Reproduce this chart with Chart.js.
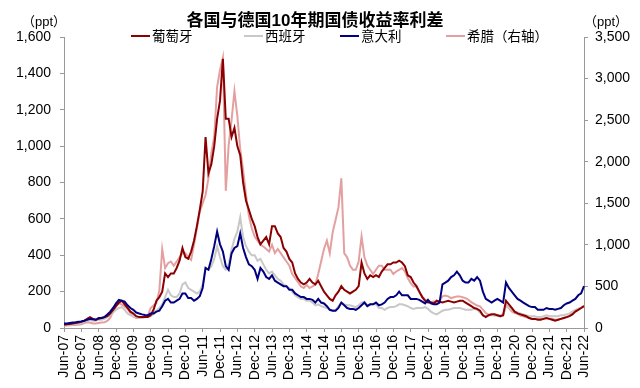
<!DOCTYPE html>
<html>
<head>
<meta charset="utf-8">
<script src="https://cdn.jsdelivr.net/npm/chart.js@4.4.0/dist/chart.umd.min.js"></script>
<style>
    body { margin: 0; background: #fff; }
    #wrap { position: relative; width: 640px; height: 388px; font-family: "Liberation Sans", "Noto Sans CJK SC", sans-serif; color: #000; }
    #title { position: absolute; top: 6px; left: 0; width: 630px; text-align: center; font-size: 17px; font-weight: bold; }
    .unit { position: absolute; top: 11px; font-size: 13px; }
    .leg { position: absolute; top: 29px; font-size: 13.5px; line-height: 16px; white-space: nowrap; }
    .leg i { display: inline-block; width: 19px; height: 2px; vertical-align: middle; margin-right: 2px; margin-top: -2px; }
</style>
</head>
<body>
<div id="wrap">
    <canvas id="chart" width="640" height="388"></canvas>
    <div id="title">各国与德国10年期国债收益率利差</div>
    <div class="unit" style="left:22px">（ppt）</div>
    <div class="unit" style="left:584px">（ppt）</div>
    <div class="leg" style="left:131px"><i style="background:#8b0000"></i>葡萄牙</div>
    <div class="leg" style="left:244px"><i style="background:#c8c8c8"></i>西班牙</div>
    <div class="leg" style="left:340px"><i style="background:#000080"></i>意大利</div>
    <div class="leg" style="left:446px"><i style="background:#e4a0a0"></i>希腊（右轴）</div>
</div>
<script>
// monthly points, Jun-07 .. Jun-22
const monthNames = ['Jun', 'Jul', 'Aug', 'Sep', 'Oct', 'Nov', 'Dec', 'Jan', 'Feb', 'Mar', 'Apr', 'May'];
const months = [];
for (let i = 0; i <= 180; i++) {
    const yr = 7 + Math.floor((i + 5) / 12);
    months.push(monthNames[i % 12] + '-' + String(yr).padStart(2, '0'));
}

const portugal = [
    18, 20, 22, 25, 28, 30, 35, 40, 50, 60, 50, 45,
    50, 55, 60, 65, 80, 100, 120, 140, 150, 130, 110, 90,
    80, 65, 60, 60, 60, 60, 70, 100, 150, 170, 200, 300,
    280, 300, 300, 330, 370, 440, 390, 380, 420, 480, 560, 650,
    750, 1050, 850, 900, 1000, 1150, 1250, 1480, 1150, 1150, 1050, 1100,
    1000, 950, 800, 700, 650, 600, 560, 500, 460, 480, 500, 460,
    560, 560, 520, 500, 440, 420, 380, 360, 300, 270, 250, 240,
    250, 270, 250, 240, 260, 230, 200, 180, 160, 150, 180, 200,
    230, 210, 200, 190, 200, 210, 230, 360, 300, 270, 290, 280,
    290, 280, 310, 330, 350, 350, 360, 360, 370, 360, 340, 290,
    280, 250, 230, 200, 170, 150, 140, 140, 135, 150, 145, 140,
    145, 150, 145, 140, 145, 150, 150, 140, 130, 120, 110, 105,
    95, 70, 60, 70, 75, 75, 70, 65, 70, 150, 130, 110,
    90, 80, 75, 70, 65, 55, 50, 50, 45, 45, 50, 55,
    50, 45, 40, 45, 50, 55, 60, 65, 75, 90, 100, 110,
    120
];
const spain = [
    15, 15, 18, 20, 22, 25, 30, 35, 40, 45, 40, 40,
    45, 45, 50, 60, 70, 85, 100, 110, 115, 100, 80, 70,
    65, 60, 55, 55, 60, 60, 65, 75, 95, 110, 130, 170,
    210, 180, 170, 170, 190, 240, 250, 220, 210, 200, 190, 200,
    240, 330, 320, 340, 380, 450, 390, 340, 320, 350, 430, 490,
    530, 610, 500, 450, 420, 400, 400, 370, 380, 350, 320, 300,
    310, 290, 270, 260, 240, 230, 220, 200, 180, 170, 160, 160,
    150, 150, 140, 125, 130, 120, 115, 110, 100, 95, 100, 120,
    140, 130, 125, 125, 120, 115, 125, 140, 145, 125, 130, 130,
    130, 110, 110, 100, 110, 115, 115, 120, 130, 130, 125, 120,
    110, 105, 110, 110, 110, 115, 105, 90, 80, 75, 85, 95,
    100, 100, 105, 110, 110, 110, 105, 100, 100, 100, 105, 100,
    85, 70, 65, 70, 70, 70, 70, 70, 70, 120, 115, 100,
    90, 85, 80, 75, 70, 65, 65, 65, 60, 60, 65, 70,
    65, 65, 65, 65, 70, 70, 75, 80, 90, 100, 105, 110,
    120
];
const italy = [
    25, 25, 28, 30, 32, 35, 36, 40, 45, 50, 48, 45,
    55, 55, 60, 75, 90, 110, 135, 155, 150, 145, 125, 110,
    100, 85, 80, 75, 72, 70, 80, 80, 90, 95, 120, 150,
    160, 140, 140, 150, 160, 190, 190, 165, 165, 150, 160, 175,
    220, 330, 320, 380, 450, 530, 460, 420, 340, 320, 410, 440,
    450, 520, 440, 390, 350, 340, 320, 270, 330, 310, 280, 270,
    290, 260, 250, 240, 230, 230, 210, 210, 190, 180, 170, 170,
    160, 160, 155, 140, 160, 140, 135, 120, 100, 95, 95, 110,
    140, 125, 110, 105, 105, 100, 110, 125, 140, 120, 130, 130,
    140, 125, 130, 140, 160, 170, 170, 180, 200, 180, 180, 180,
    160, 160, 160, 155, 145, 135, 155, 135, 130, 130, 140, 240,
    250, 260, 280, 290, 310, 290, 260, 250, 250, 270, 260, 280,
    260, 200, 160, 150, 140, 150, 160, 150, 140, 250, 220, 200,
    180, 160, 150, 140, 130, 120, 115, 115, 100, 100, 100, 110,
    105, 105, 100, 105, 110, 125, 135, 140, 150, 160, 180, 190,
    230
];
// right axis
const greece = [
    30, 30, 32, 35, 35, 40, 45, 60, 70, 65, 55, 55,
    60, 65, 70, 85, 120, 200, 260, 300, 280, 260, 230, 180,
    140, 120, 120, 125, 130, 150, 240, 270, 300, 450, 950, 720,
    780, 800, 750, 800, 850, 900, 900, 850, 820, 1000, 1200, 1400,
    1500, 1600, 1800, 2100, 2300, 2900, 3100, 3250, 1650, 2200, 2500, 2850,
    2550, 2150, 1900, 1600, 1350, 1200, 1100, 1050, 1000, 980, 950, 920,
    1000, 900, 950, 900, 850, 800, 750, 650, 600, 550, 500, 480,
    520, 480, 500, 520, 650, 800, 950, 1050, 900, 1150, 1300, 1450,
    1800, 900, 850, 750, 700, 700, 800, 1100, 850, 750, 700, 650,
    700, 750, 750, 700, 700, 700, 650, 680, 700, 720, 680, 600,
    540, 500, 500, 430, 380, 340, 330, 310, 320, 300, 330, 380,
    390, 380, 360, 370, 380, 380, 370, 360, 340, 310, 290, 270,
    260, 220, 180, 160, 160, 150, 150, 140, 150, 280, 240, 200,
    180, 170, 150, 140, 130, 120, 110, 110, 110, 110, 110, 120,
    110, 110, 100, 100, 110, 120, 130, 150, 180, 210, 230, 240,
    270
];

const axisColor = '#999';
const tickFont = { family: '"Liberation Sans", Arial, sans-serif', size: 14 };

function line(label, data, color, axis, order) {
    return {
        label, data, yAxisID: axis, order,
        borderColor: color, backgroundColor: color,
        borderWidth: 2, pointRadius: 0, tension: 0, fill: false
    };
}

new Chart(document.getElementById('chart'), {
    type: 'line',
    data: {
        labels: months,
        datasets: [
            line('葡萄牙', portugal, '#8b0000', 'y', 1),
            line('西班牙', spain, '#c8c8c8', 'y', 2),
            line('意大利', italy, '#000080', 'y', 0),
            line('希腊（右轴）', greece, '#e4a0a0', 'y2', 3)
        ]
    },
    options: {
        responsive: false,
        animation: false,
        layout: { padding: { top: 37, left: 0, right: 0, bottom: 0 } },
        plugins: {
            legend: { display: false },
            title: { display: false },
            tooltip: { enabled: false }
        },
        scales: {
            x: {
                type: 'category',
                grid: { drawOnChartArea: false, tickLength: 4, color: axisColor },
                border: { color: axisColor },
                ticks: {
                    autoSkip: false, minRotation: 90, maxRotation: 90, padding: 3,
                    color: '#000', font: { family: tickFont.family, size: 14 },
                    callback(value) {
                        const lab = this.getLabelForValue(value);
                        return (lab.startsWith('Jun') || lab.startsWith('Dec')) ? lab : null;
                    }
                },
                afterFit(scale) { scale.height = 60; }
            },
            y: {
                position: 'left', min: 0, max: 1600,
                grid: { drawOnChartArea: false, tickLength: 4, color: axisColor },
                border: { color: axisColor },
                ticks: { stepSize: 200, padding: 9, color: '#000', font: tickFont,
                    callback: v => v.toLocaleString('en-US') },
                afterFit(scale) { scale.width = 64; }
            },
            y2: {
                position: 'right', min: 0, max: 3500,
                grid: { drawOnChartArea: false, tickLength: 4, color: axisColor },
                border: { color: axisColor },
                ticks: { stepSize: 500, padding: 7, color: '#000', font: tickFont,
                    callback: v => v.toLocaleString('en-US') },
                afterFit(scale) { scale.width = 56; }
            }
        }
    }
});
</script>
</body>
</html>
